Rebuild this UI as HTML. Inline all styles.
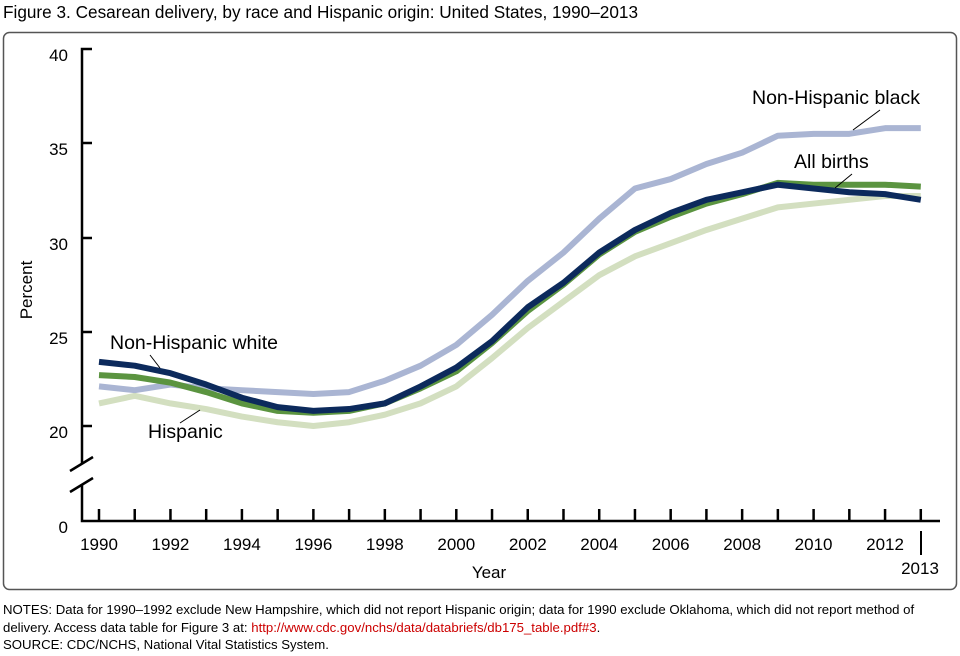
<!DOCTYPE html>
<html><head><style>
body{margin:0;width:960px;height:656px;background:#fff;font-family:"Liberation Sans",Arial,sans-serif;position:relative;overflow:hidden}
.t{position:absolute;left:3px;top:2px;font-size:17.2px;color:#000}
.n{position:absolute;left:3px;top:601px;width:930px;font-size:13.2px;line-height:17.5px;color:#000}
.n a{color:#c00;text-decoration:none}
</style></head><body>
<div class="t">Figure 3. Cesarean delivery, by race and Hispanic origin: United States, 1990–2013</div>
<svg width="960" height="600" style="position:absolute;left:0;top:0" font-family="Liberation Sans, Arial, sans-serif">
<rect x="3.5" y="32.5" width="953" height="557" rx="6" fill="none" stroke="#555" stroke-width="1.5"/>
<g stroke="#000" stroke-width="2.5" fill="none">
<path d="M92 49H82V463M82 484V521H940"/>
<path d="M82 143H92M82 238H92M82 332H92M82 426H92"/>
<path d="M70 471L93 457M70 492L93 478"/>
</g>
<g id="xt" stroke="#000" stroke-width="2.5"></g>
<g font-size="17" fill="#000" text-anchor="end">
<text x="68" y="61">40</text><text x="68" y="155">35</text><text x="68" y="250">30</text><text x="68" y="344">25</text><text x="68" y="438">20</text><text x="68" y="533">0</text>
</g>
<g id="xl" font-size="17" fill="#000" text-anchor="middle"></g>
<text x="920" y="574" font-size="17" text-anchor="middle">2013</text>
<line x1="921" y1="531" x2="921" y2="555" stroke="#000" stroke-width="2"/>
<text x="489" y="578" font-size="17" text-anchor="middle">Year</text>
<text x="32" y="290" font-size="17" text-anchor="middle" transform="rotate(-90 32 290)">Percent</text>
<g id="lines" fill="none" stroke-width="6" stroke-linejoin="round"></g>
<g font-size="19.5" fill="#000">
<text x="752" y="104">Non-Hispanic black</text>
<text x="794" y="168">All births</text>
<text x="110" y="349">Non-Hispanic white</text>
<text x="148" y="438">Hispanic</text>
</g>
<g stroke="#000" stroke-width="1">
<line x1="880" y1="110" x2="853" y2="130"/>
<line x1="852" y1="174" x2="835" y2="188"/>
<line x1="150" y1="355" x2="160" y2="368"/>
<line x1="180" y1="423" x2="200" y2="410"/>
</g>
</svg>
<div class="n">NOTES: Data for 1990–1992 exclude New Hampshire, which did not report Hispanic origin; data for 1990 exclude Oklahoma, which did not report method of delivery. Access data table for Figure 3 at: <a>http://www.cdc.gov/nchs/data/databriefs/db175_table.pdf#3</a>.<br>SOURCE: CDC/NCHS, National Vital Statistics System.</div>
<script>
var X=y=>99+(y-1990)*35.73, Y=v=>426-(v-20)*18.85;
var xt=document.getElementById('xt'),xl=document.getElementById('xl'),h='',l='';
for(var y=1990;y<=2013;y++){h+='<line x1="'+X(y)+'" y1="509" x2="'+X(y)+'" y2="521"/>';if(y%2==0&&y<2013)l+='<text x="'+X(y)+'" y="550">'+y+'</text>';}
xt.innerHTML=h;xl.innerHTML=l;
var S=[
['#d3dfc0',[21.2,21.6,21.2,20.9,20.5,20.2,20.0,20.2,20.6,21.2,22.1,23.6,25.2,26.6,28.0,29.0,29.7,30.4,31.0,31.6,31.8,32.0,32.2,32.2]],
['#aab5d3',[22.1,21.9,22.2,22.0,21.9,21.8,21.7,21.8,22.4,23.2,24.3,25.9,27.7,29.2,31.0,32.6,33.1,33.9,34.5,35.4,35.5,35.5,35.8,35.8]],
['#5b9440',[22.7,22.6,22.3,21.8,21.2,20.8,20.7,20.8,21.2,22.0,22.9,24.4,26.1,27.5,29.1,30.3,31.1,31.8,32.3,32.9,32.8,32.8,32.8,32.7]],
['#0c2a5c',[23.4,23.2,22.8,22.2,21.5,21.0,20.8,20.9,21.2,22.1,23.1,24.5,26.3,27.6,29.2,30.4,31.3,32.0,32.4,32.8,32.6,32.4,32.3,32.0]]];
var g='';S.forEach(s=>{g+='<polyline stroke="'+s[0]+'" points="'+s[1].map((v,i)=>X(1990+i)+','+Y(v)).join(' ')+'"/>';});
document.getElementById('lines').innerHTML=g;
</script>
</body></html>
